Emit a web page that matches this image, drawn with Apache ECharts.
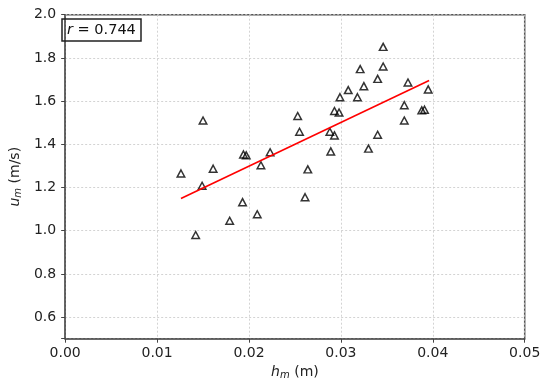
<!DOCTYPE html>
<html>
<head>
<meta charset="utf-8">
<script src="https://cdn.jsdelivr.net/npm/echarts@6/dist/echarts.min.js"></script>
<style>html,body{margin:0;padding:0;background:#fff}#c{width:550px;height:391px}</style>
</head>
<body>
<div id="c"></div>
<script>
// measured depth h_m (m)
const hm = [0.0126, 0.0142, 0.0149, 0.0150, 0.0161, 0.0179, 0.0193, 0.0194, 0.0197, 0.0209,
            0.0213, 0.0223, 0.0253, 0.0255, 0.0261, 0.0264, 0.0288, 0.0289, 0.0293, 0.0293,
            0.0298, 0.0299, 0.0308, 0.0318, 0.0321, 0.0325, 0.0330, 0.0340, 0.0340, 0.0346,
            0.0346, 0.0369, 0.0369, 0.0373, 0.0388, 0.0391, 0.0395];
// velocity u_m (m/s)
const um = [1.265, 0.980, 1.208, 1.510, 1.287, 1.046, 1.132, 1.353, 1.349, 1.076,
            1.303, 1.363, 1.531, 1.458, 1.155, 1.284, 1.458, 1.367, 1.554, 1.441,
            1.547, 1.618, 1.651, 1.618, 1.748, 1.669, 1.380, 1.703, 1.444, 1.851,
            1.760, 1.581, 1.510, 1.686, 1.557, 1.560, 1.654];
// regression line end points
const fitX = [0.0126, 0.0396];
const fitY = [1.149, 1.695];
const rText = '0.744';

const font = 'DejaVu Sans';
const chart = echarts.init(document.getElementById('c'));
chart.setOption({
  animation: false,
  textStyle: { fontFamily: font },
  title: {
    text: '{i|r} = ' + rText,
    left: 62, top: 19,
    borderColor: '#222', borderWidth: 1.5,
    padding: [4, 5, 3, 5],
    textStyle: {
      fontFamily: font, fontSize: 14.5, fontWeight: 'normal', color: '#111',
      rich: { i: { fontFamily: font, fontStyle: 'italic', fontSize: 14.5, color: '#111' } }
    }
  },
  grid: {
    left: 58, right: 25.3, top: 14.7, bottom: 52.3,
    show: true, borderColor: '#555', borderWidth: 1.5, backgroundColor: 'transparent'
  },
  xAxis: {
    type: 'value', min: 0, max: 0.05, interval: 0.01,
    name: '{i|h}{s|m} (m)', nameLocation: 'middle', nameGap: 25,
    nameTextStyle: {
      fontFamily: font, fontSize: 14, color: '#222',
      rich: {
        i: { fontFamily: font, fontStyle: 'italic', fontSize: 14, color: '#222' },
        s: { fontFamily: font, fontStyle: 'italic', fontSize: 10, color: '#222', padding: [6, 0, 0, 0] }
      }
    },
    axisLine: { show: true, lineStyle: { color: '#555', width: 1.5 } },
    axisTick: { show: true, length: 4, lineStyle: { color: '#444' } },
    axisLabel: { fontFamily: font, fontSize: 14, color: '#222', margin: 8,
      formatter: v => v.toFixed(2) },
    splitLine: { show: true, lineStyle: { color: '#c8c8c8', type: [2, 2], width: 0.8 } }
  },
  yAxis: {
    type: 'value', min: 0.5, max: 2.0, splitNumber: 7,
    name: '{i|u}{s|m} (m/s)', nameLocation: 'middle', nameGap: 38, nameRotate: 90,
    nameTextStyle: {
      fontFamily: font, fontSize: 14, color: '#222',
      rich: {
        i: { fontFamily: font, fontStyle: 'italic', fontSize: 14, color: '#222' },
        s: { fontFamily: font, fontStyle: 'italic', fontSize: 10, color: '#222', padding: [6, 0, 0, 0] }
      }
    },
    axisLine: { show: true, lineStyle: { color: '#555', width: 1.5 } },
    axisTick: { show: true, length: 4, lineStyle: { color: '#444' } },
    axisLabel: { fontFamily: font, fontSize: 14, color: '#222', margin: 9,
      formatter: v => Math.abs(v - 0.5) < 1e-9 ? '' : v.toFixed(1) },
    splitLine: { show: true, lineStyle: { color: '#c8c8c8', type: [2, 2], width: 0.8 } }
  },
  series: [
    {
      type: 'scatter',
      data: hm.map((x, i) => [x, um[i]]),
      symbol: 'triangle', symbolSize: [7.5, 7],
      itemStyle: { color: 'rgba(0,0,0,0)', borderColor: '#000', borderWidth: 1.5 },
      z: 3
    },
    {
      type: 'line',
      data: fitX.map((x, i) => [x, fitY[i]]),
      symbol: 'none',
      lineStyle: { color: '#ff0000', width: 1.6 },
      z: 4
    }
  ]
});
</script>
</body>
</html>
